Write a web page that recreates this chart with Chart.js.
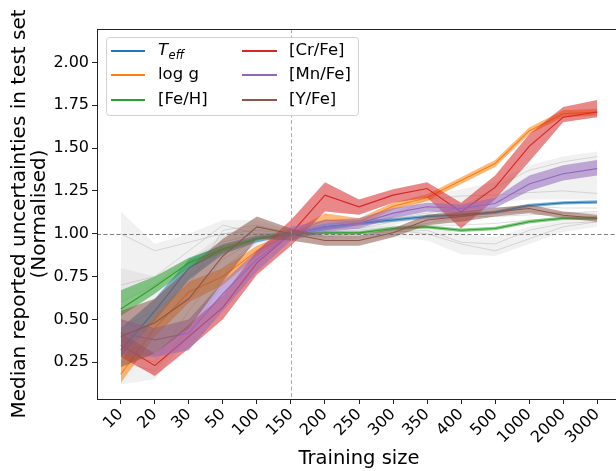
<!DOCTYPE html>
<html>
<head>
<meta charset="utf-8">
<script src="https://cdn.jsdelivr.net/npm/chart.js@4.4.1/dist/chart.umd.min.js"></script>
<style>
    html, body { margin: 0; padding: 0; background: #fff; overflow: hidden; }
    #wrap { width: 630px; height: 471px; }
</style>
</head>
<body>
<div id="wrap"><canvas id="chart" width="630" height="471"></canvas></div>
<script>
const trainingSizes = ['10', '20', '30', '50', '100', '150', '200', '250', '300', '350', '400', '500', '1000', '2000', '3000'];
const yTicks = [0.25, 0.5, 0.75, 1.0, 1.25, 1.5, 1.75, 2.0];

// median (mid) with lower / upper spread per label
const teffMid = [0.32, 0.55, 0.80, 0.91, 0.97, 1.00, 1.04, 1.06, 1.08, 1.10, 1.11, 1.125, 1.165, 1.18, 1.185];
const teffLo  = [0.28, 0.49, 0.73, 0.88, 0.95, 0.99, 1.02, 1.05, 1.07, 1.09, 1.10, 1.115, 1.155, 1.17, 1.175];
const teffHi  = [0.45, 0.62, 0.85, 0.94, 0.99, 1.01, 1.06, 1.08, 1.09, 1.11, 1.12, 1.135, 1.175, 1.19, 1.195];

const loggMid = [0.18, 0.45, 0.66, 0.75, 0.90, 1.00, 1.08, 1.07, 1.16, 1.21, 1.31, 1.41, 1.60, 1.70, 1.71];
const loggLo  = [0.13, 0.40, 0.60, 0.70, 0.87, 0.99, 1.06, 1.05, 1.14, 1.19, 1.29, 1.39, 1.58, 1.68, 1.69];
const loggHi  = [0.26, 0.52, 0.72, 0.80, 0.93, 1.01, 1.12, 1.09, 1.18, 1.23, 1.33, 1.43, 1.62, 1.72, 1.73];

const fehMid = [0.56, 0.69, 0.83, 0.91, 0.97, 1.00, 1.005, 1.005, 1.03, 1.04, 1.02, 1.03, 1.07, 1.09, 1.09];
const fehLo  = [0.52, 0.65, 0.80, 0.89, 0.96, 0.995, 0.995, 0.995, 1.02, 1.03, 1.01, 1.02, 1.06, 1.08, 1.08];
const fehHi  = [0.67, 0.75, 0.86, 0.93, 0.98, 1.005, 1.015, 1.015, 1.04, 1.05, 1.03, 1.04, 1.08, 1.10, 1.10];

const crfeMid = [0.35, 0.23, 0.40, 0.57, 0.83, 1.00, 1.225, 1.157, 1.225, 1.264, 1.127, 1.27, 1.51, 1.68, 1.71];
const crfeLo  = [0.28, 0.17, 0.33, 0.50, 0.76, 0.93, 1.13, 1.11, 1.18, 1.21, 1.03, 1.20, 1.42, 1.65, 1.68];
const crfeHi  = [0.42, 0.30, 0.47, 0.64, 0.90, 1.08, 1.30, 1.20, 1.26, 1.30, 1.18, 1.34, 1.58, 1.74, 1.78];

const mnfeMid = [0.42, 0.38, 0.42, 0.65, 0.85, 1.00, 1.04, 1.06, 1.12, 1.157, 1.147, 1.176, 1.29, 1.35, 1.38];
const mnfeLo  = [0.30, 0.28, 0.32, 0.55, 0.78, 0.96, 1.01, 1.03, 1.09, 1.13, 1.12, 1.15, 1.25, 1.31, 1.34];
const mnfeHi  = [0.50, 0.45, 0.50, 0.72, 0.90, 1.04, 1.08, 1.09, 1.15, 1.18, 1.17, 1.21, 1.34, 1.40, 1.43];

const yfeMid = [0.40, 0.48, 0.62, 0.87, 1.04, 1.00, 0.96, 0.96, 1.005, 1.08, 1.10, 1.127, 1.147, 1.108, 1.09];
const yfeLo  = [0.22, 0.30, 0.45, 0.72, 0.97, 0.96, 0.93, 0.93, 0.98, 1.05, 1.07, 1.10, 1.12, 1.09, 1.07];
const yfeHi  = [0.55, 0.62, 0.80, 0.97, 1.10, 1.03, 0.99, 0.99, 1.03, 1.11, 1.13, 1.15, 1.17, 1.13, 1.11];

// remaining labels, drawn faintly in the background
const otherUpperHi = [1.13, 0.94, 1.00, 1.08, 1.08, 1.02, 1.06, 1.08, 1.12, 1.22, 1.26, 1.30, 1.40, 1.45, 1.48];
const otherUpperLo = [0.60, 0.70, 0.85, 0.95, 0.98, 0.98, 1.00, 1.02, 1.05, 1.10, 1.13, 1.18, 1.20, 1.20, 1.20];
const otherLowerHi = [0.80, 0.75, 0.85, 1.00, 1.05, 1.01, 1.03, 1.04, 1.05, 1.05, 1.00, 0.98, 1.04, 1.08, 1.10];
const otherLowerLo = [0.12, 0.15, 0.40, 0.70, 0.90, 0.99, 0.96, 0.97, 0.98, 0.96, 0.88, 0.87, 0.94, 1.01, 1.04];

const other1 = [1.00, 0.90, 0.95, 1.00, 1.02, 1.00, 1.03, 1.05, 1.08, 1.10, 1.15, 1.27, 1.37, 1.42, 1.45];
const other2 = [0.60, 0.70, 0.85, 0.95, 1.00, 1.00, 1.02, 1.05, 1.10, 1.20, 1.22, 1.225, 1.24, 1.25, 1.235];
const other3 = [0.45, 0.55, 0.70, 1.02, 1.05, 1.00, 0.98, 1.00, 1.02, 1.00, 0.94, 0.90, 0.97, 1.04, 1.07];
const other4 = [0.35, 0.50, 0.75, 0.90, 0.98, 1.00, 0.99, 1.00, 1.01, 1.02, 0.95, 0.94, 1.02, 1.06, 1.07];
const other5 = [0.30, 0.25, 0.55, 0.80, 0.95, 1.00, 1.03, 1.06, 1.09, 1.12, 1.15, 1.15, 1.16, 1.15, 1.15];
const other6 = [0.50, 0.40, 0.60, 0.85, 0.97, 1.00, 1.04, 1.03, 1.07, 1.09, 1.10, 1.12, 1.13, 1.12, 1.12];
const other7 = [0.25, 0.20, 0.45, 0.75, 0.96, 1.00, 1.01, 1.02, 1.04, 1.05, 1.05, 1.06, 1.08, 1.09, 1.10];
const other8 = [0.70, 0.75, 0.90, 1.05, 1.00, 1.00, 1.00, 1.01, 1.03, 1.06, 1.10, 1.10, 1.11, 1.12, 1.13];

const series = [
    { name: 'Teff',   color: '31,119,180', mid: teffMid, lo: teffLo, hi: teffHi },
    { name: 'log g',  color: '255,127,14', mid: loggMid, lo: loggLo, hi: loggHi },
    { name: '[Fe/H]', color: '44,160,44',  mid: fehMid,  lo: fehLo,  hi: fehHi },
    { name: '[Cr/Fe]', color: '214,39,40', mid: crfeMid, lo: crfeLo, hi: crfeHi },
    { name: '[Mn/Fe]', color: '148,103,189', mid: mnfeMid, lo: mnfeLo, hi: mnfeHi },
    { name: '[Y/Fe]', color: '140,86,75',  mid: yfeMid,  lo: yfeLo,  hi: yfeHi }
];

const FONT = '"DejaVu Sans", sans-serif';
const pts = arr => arr.map((v, i) => ({ x: i, y: v }));

const datasets = [];

function addBand(lo, hi, fillColor, order) {
    const loIdx = datasets.length;
    datasets.push({
        data: pts(lo), borderWidth: 0, pointRadius: 0, fill: false,
        borderColor: 'transparent', order
    });
    datasets.push({
        data: pts(hi), borderWidth: 0, pointRadius: 0,
        borderColor: 'transparent', backgroundColor: fillColor,
        fill: { target: loIdx }, order
    });
}

function addLine(values, color, width, order) {
    datasets.push({
        data: pts(values), borderColor: color, borderWidth: width,
        pointRadius: 0, fill: false, tension: 0, order
    });
}

// faint background
addBand(otherUpperLo, otherUpperHi, 'rgba(200,200,200,0.25)', 200);
addBand(otherLowerLo, otherLowerHi, 'rgba(200,200,200,0.25)', 199);
[other1, other2, other3, other4, other5, other6, other7, other8].forEach((o, i) => {
    addLine(o, 'rgba(160,160,160,0.45)', 0.8, 150 - i);
});

// highlighted labels: later ones on top
series.forEach((s, k) => {
    addBand(s.lo, s.hi, `rgba(${s.color},0.55)`, 60 - 2 * k);
    addLine(s.mid, `rgb(${s.color})`, 1.1, 59 - 2 * k);
});

const refLines = {
    id: 'refLines',
    afterDatasetsDraw(chart) {
        const { ctx, chartArea: a, scales: { x, y } } = chart;
        ctx.save();
        ctx.lineWidth = 1;
        ctx.setLineDash([4, 2.5]);
        ctx.strokeStyle = 'rgba(110,110,110,0.9)';
        const y1 = Math.round(y.getPixelForValue(1)) + 0.5;
        ctx.beginPath(); ctx.moveTo(a.left, y1); ctx.lineTo(a.right, y1); ctx.stroke();
        ctx.strokeStyle = 'rgba(150,150,150,0.8)';
        const x150 = Math.round(x.getPixelForValue(trainingSizes.indexOf('150'))) + 0.5;
        ctx.beginPath(); ctx.moveTo(x150, a.top); ctx.lineTo(x150, a.bottom); ctx.stroke();
        ctx.restore();
    }
};

const frame = {
    id: 'frame',
    afterDraw(chart) {
        const { ctx, chartArea: a } = chart;
        ctx.save();
        ctx.strokeStyle = '#222';
        ctx.lineWidth = 1;
        ctx.strokeRect(Math.round(a.left) + 0.5, Math.round(a.top) + 0.5,
            Math.round(a.right - a.left), Math.round(a.bottom - a.top));
        ctx.restore();
    }
};

// two-column legend, column-major like the plotting script
const legendBox = {
    id: 'legendBox',
    afterDraw(chart) {
        const { ctx, chartArea: a } = chart;
        const bx = a.left + 9, by = a.top + 8, bw = 252, bh = 78;
        ctx.save();
        ctx.fillStyle = 'rgba(255,255,255,0.85)';
        ctx.strokeStyle = '#d0d0d0';
        ctx.lineWidth = 1;
        ctx.beginPath();
        ctx.roundRect(bx + 0.5, by + 0.5, bw, bh, 3);
        ctx.fill();
        ctx.stroke();

        const rows = [22, 46, 71];
        const cols = [{ h0: 14, h1: 48, tx: 61 }, { h0: 145, h1: 180, tx: 192 }];
        ctx.textBaseline = 'middle';
        ctx.fillStyle = '#000';
        series.forEach((s, k) => {
            const c = cols[Math.floor(k / 3)];
            const yy = a.top + rows[k % 3];
            ctx.strokeStyle = `rgb(${s.color})`;
            ctx.lineWidth = 2;
            ctx.beginPath();
            ctx.moveTo(a.left + c.h0, yy);
            ctx.lineTo(a.left + c.h1, yy);
            ctx.stroke();
            ctx.fillStyle = '#000';
            if (s.name === 'Teff') {
                ctx.font = 'italic 16.5px ' + FONT;
                ctx.fillText('T', a.left + c.tx, yy);
                const w = ctx.measureText('T').width;
                ctx.font = 'italic 11.5px ' + FONT;
                ctx.fillText('eff', a.left + c.tx + w + 0.5, yy + 5);
            } else {
                ctx.font = '16.5px ' + FONT;
                ctx.fillText(s.name, a.left + c.tx, yy);
            }
        });
        ctx.restore();
    }
};

new Chart(document.getElementById('chart'), {
    type: 'line',
    data: { datasets },
    plugins: [refLines, frame, legendBox],
    options: {
        responsive: false,
        animation: false,
        devicePixelRatio: 1,
        layout: { padding: { left: 0, top: 29, right: 9, bottom: 0 } },
        plugins: {
            legend: { display: false },
            tooltip: { enabled: false },
            filler: { propagate: false }
        },
        scales: {
            x: {
                type: 'linear',
                min: -0.7,
                max: trainingSizes.length - 1 + 0.7,
                afterBuildTicks: axis => {
                    axis.ticks = trainingSizes.map((_, i) => ({ value: i }));
                },
                afterFit: axis => { axis.height = 72; },
                ticks: {
                    autoSkip: false,
                    minRotation: 45,
                    maxRotation: 45,
                    color: '#000',
                    padding: 1,
                    font: { family: FONT, size: 16 },
                    callback: v => trainingSizes[v]
                },
                grid: { drawOnChartArea: false, drawTicks: true, tickLength: 5, color: '#222' },
                border: { display: true, color: '#222' },
                title: {
                    display: true,
                    text: 'Training size',
                    color: '#000',
                    font: { family: FONT, size: 19.5 },
                    padding: { top: 0, bottom: 0 }
                }
            },
            y: {
                min: 0.035,
                max: 2.195,
                afterBuildTicks: axis => {
                    axis.ticks = yTicks.map(v => ({ value: v }));
                },
                afterFit: axis => { axis.width = 97; },
                ticks: {
                    color: '#000',
                    padding: 3,
                    font: { family: FONT, size: 16 },
                    callback: v => v.toFixed(2)
                },
                grid: { drawOnChartArea: false, drawTicks: true, tickLength: 5, color: '#222' },
                border: { display: true, color: '#222' },
                title: {
                    display: true,
                    text: ['Median reported uncertainties in test set', '(Normalised)'],
                    color: '#000',
                    font: { family: FONT, size: 20, lineHeight: 1.0 },
                    padding: { top: 10, bottom: 0 }
                }
            }
        }
    }
});
</script>
</body>
</html>
